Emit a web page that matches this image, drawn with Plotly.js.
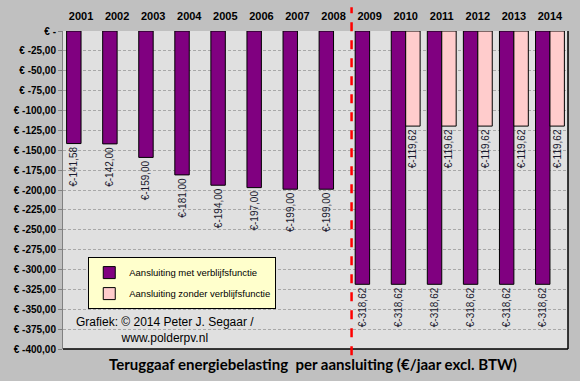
<!DOCTYPE html>
<html>
<head>
<meta charset="utf-8">
<script src="https://cdn.plot.ly/plotly-3.0.1.min.js"></script>
<style>html,body{margin:0;padding:0;background:#c0c0c0;}#chart{width:580px;height:381px;}</style>
</head>
<body>
<div id="chart"></div>
<script>
const years = ['2001','2002','2003','2004','2005','2006','2007','2008','2009','2010','2011','2012','2013','2014'];
const metVerblijf = [-141.58,-142.00,-159.00,-181.00,-194.00,-197.00,-199.00,-199.00,-318.62,-318.62,-318.62,-318.62,-318.62,-318.62];
const zonderVerblijf = [null,null,null,null,null,null,null,null,null,-119.62,-119.62,-119.62,-119.62,-119.62];
const yTicks = [0,-25,-50,-75,-100,-125,-150,-175,-200,-225,-250,-275,-300,-325,-350,-375,-400];
const seriesNames = ['Aansluiting met verblijfsfunctie','Aansluiting zonder verblijfsfunctie'];

function euro(v){ return '€' + v.toFixed(2).replace('.', ','); }
function tickLabel(v){ return v === 0 ? '€ -' : '€ ' + v.toFixed(2).replace('.', ','); }

const labelFont = {family:'Liberation Sans, Arial, sans-serif', size:10, color:'#1a1a2e'};

const traces = [
  {type:'bar', x:years, y:metVerblijf, name:seriesNames[0], legendgroup:'a',
   marker:{color:'#800080', line:{color:'#000', width:1}},
   text:metVerblijf.map(euro), textposition:'outside', textangle:-90, constraintext:'none',
   outsidetextfont:labelFont, cliponaxis:false, hoverinfo:'x+y'},
  {type:'bar', x:years, y:zonderVerblijf, name:seriesNames[1], legendgroup:'b',
   marker:{color:'#ffcccc', line:{color:'#000', width:1}},
   text:zonderVerblijf.map(v => v === null ? '' : euro(v)), textposition:'outside', textangle:-90, constraintext:'none',
   outsidetextfont:labelFont, cliponaxis:false, hoverinfo:'x+y'}
];

const layout = {
  width:580, height:381,
  paper_bgcolor:'#c0c0c0', plot_bgcolor:'#e0e0e0',
  margin:{l:63, r:12, t:31, b:32},
  barmode:'group', bargap:0.2, bargroupgap:0,
  showlegend:true,
  legend:{x:0.05, y:0.289, xanchor:'left', yanchor:'top',
    bgcolor:'#ffffcc', bordercolor:'#000', borderwidth:1,
    font:{family:'Liberation Sans, Arial, sans-serif', size:9.5, color:'#000'},
    traceorder:'grouped', tracegroupgap:2},
  xaxis:{type:'category', side:'top', showgrid:false, ticks:'', showline:false,
    ticklabelstandoff:8,
    tickfont:{family:'Liberation Sans, Arial, sans-serif', size:11, color:'#000', weight:'bold'},
    fixedrange:true},
  yaxis:{range:[-400,0], tickvals:yTicks, ticktext:yTicks.map(tickLabel),
    showgrid:true, gridcolor:'#a8a8a8', griddash:'3px,2px', gridwidth:1,
    zeroline:false, showline:true, linecolor:'#808080', linewidth:1,
    ticks:'outside', ticklen:4, tickcolor:'#808080',
    tickfont:{family:'Liberation Sans, Arial, sans-serif', size:10, color:'#000', weight:'bold'},
    fixedrange:true},
  shapes:[
    {type:'line', xref:'paper', yref:'paper', x0:0, x1:1, y0:0, y1:0, line:{color:'#000', width:1.5}},
    {type:'line', xref:'paper', yref:'paper', x0:1, x1:1, y0:0, y1:1, line:{color:'#000', width:1.5}},
    {type:'line', xref:'x', yref:'paper', x0:7.5, x1:7.5, y0:-0.02, y1:1.075, line:{color:'#ff0000', width:2.5, dash:'dash'}}
  ],
  annotations:[
    {xref:'paper', yref:'paper', x:0.202, y:0.06, xanchor:'center', yanchor:'middle', align:'center', showarrow:false,
     text:'Grafiek: © 2014 Peter J. Segaar /<br>www.polderpv.nl',
     font:{family:'Liberation Sans, Arial, sans-serif', size:12, color:'#000'}},
    {xref:'paper', yref:'paper', x:0.496, y:-0.047, xanchor:'center', yanchor:'middle', showarrow:false,
     text:'<b>Teruggaaf energiebelasting  per aansluiting (€/jaar excl. BTW)</b>',
     font:{family:'Lato, sans-serif', size:15, color:'#000'}}
  ]
};

Plotly.newPlot('chart', traces, layout, {displayModeBar:false, staticPlot:true});
</script>
</body>
</html>
